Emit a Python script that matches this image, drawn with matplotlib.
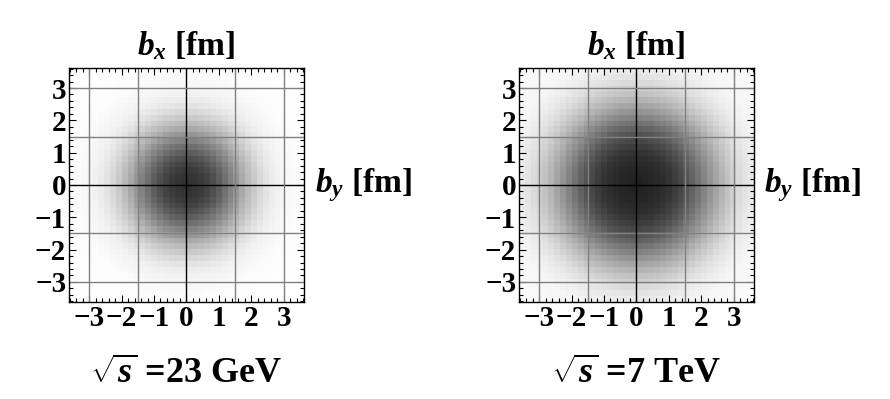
import numpy as np
import matplotlib
matplotlib.use("Agg")
import matplotlib.pyplot as plt
from matplotlib.ticker import MultipleLocator

plt.rcParams['font.family'] = ['Liberation Serif', 'DejaVu Serif']
plt.rcParams['font.weight'] = 'bold'
plt.rcParams['mathtext.fontset'] = 'custom'
plt.rcParams['mathtext.rm'] = 'Liberation Serif:bold'
plt.rcParams['mathtext.it'] = 'Liberation Serif:italic:bold'
plt.rcParams['mathtext.bf'] = 'Liberation Serif:bold'

# radial profile of the density (ink fraction, 0 = white, 1 = black)
b_r = [0, 0.25, 0.5, 0.75, 1.0, 1.25, 1.5, 1.75, 2.0, 2.25, 2.5, 2.75, 3.0, 3.25, 3.5, 3.75, 4.0, 5.2]
ink_23gev = [0.81, 0.80, 0.77, 0.72, 0.64, 0.54, 0.44, 0.33, 0.24, 0.16, 0.10, 0.06, 0.04, 0.025, 0.015, 0.01, 0.005, 0.0]
ink_7tev = [0.87, 0.86, 0.85, 0.83, 0.80, 0.75, 0.69, 0.61, 0.52, 0.43, 0.34, 0.26, 0.19, 0.13, 0.09, 0.06, 0.04, 0.01]

panel_labels = [r"$\sqrt{s}$ =23 GeV", r"$\sqrt{s}$ =7 TeV"]
tick_vals = [-3, -2, -1, 0, 1, 2, 3]
tick_labels = ["\u22123", "\u22122", "\u22121", "0", "1", "2", "3"]
grid_vals = [-3, -1.5, 0, 1.5, 3]

lim = 3.62

fig = plt.figure(figsize=(8.9, 3.99), dpi=100)
lefts = [0.0775, 0.5831]

# cell grid similar to the blocky density plot
n = 40
edges = np.linspace(-lim, lim, n + 1)
centers = 0.5 * (edges[:-1] + edges[1:])
X, Y = np.meshgrid(centers, centers)
R = np.sqrt(X ** 2 + Y ** 2)

for left, ink, label in zip(lefts, [ink_23gev, ink_7tev], panel_labels):
    ax = fig.add_axes([left, 0.2431, 0.2640, 0.5865])
    Z = np.interp(R, b_r, ink)
    ax.pcolormesh(edges, edges, Z, cmap='gray_r', vmin=0, vmax=1, shading='flat')
    for g in grid_vals:
        c = 'black' if g == 0 else '#808080'
        ax.axvline(g, color=c, lw=1.0)
        ax.axhline(g, color=c, lw=1.0)
    ax.set_xlim(-lim, lim)
    ax.set_ylim(-lim, lim)
    ax.set_xticks(tick_vals)
    ax.set_xticklabels(tick_labels)
    ax.set_yticks(tick_vals)
    ax.set_yticklabels(tick_labels)
    ax.xaxis.set_minor_locator(MultipleLocator(0.2))
    ax.yaxis.set_minor_locator(MultipleLocator(0.2))
    ax.tick_params(which='both', direction='in', top=True, right=True,
                   labelsize=21, pad=2, width=0.8)
    ax.tick_params(which='major', length=5)
    ax.tick_params(which='minor', length=3)
    for s in ax.spines.values():
        s.set_linewidth(1.0)
    ax.set_title(r"$b_x$ [fm]", fontsize=24, fontweight='bold', pad=9)
    ax.text(1.045, 0.5, r"$b_y$ [fm]", transform=ax.transAxes, fontsize=24,
            fontweight='bold', ha='left', va='center')
    ax.text(0.5, -0.31, label, transform=ax.transAxes, fontsize=26,
            fontweight='bold', ha='center', va='center')

fig.savefig("out.png", dpi=100)
